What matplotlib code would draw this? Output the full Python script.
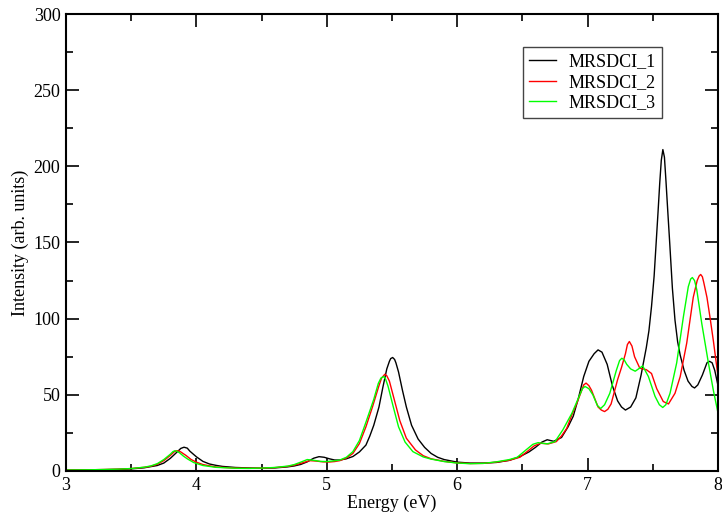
import matplotlib
matplotlib.use("Agg")
import matplotlib.pyplot as plt
from matplotlib.ticker import MultipleLocator

plt.rcParams['font.family'] = ['Liberation Serif', 'DejaVu Serif']

# MRSDCI_1 (black)
e1 = [3.0, 3.2, 3.4, 3.5, 3.6, 3.7, 3.75, 3.8, 3.85, 3.88, 3.905, 3.93, 3.95, 4.0,
      4.05, 4.1, 4.15, 4.2, 4.3, 4.4, 4.5, 4.6, 4.7, 4.75, 4.8, 4.85, 4.9, 4.94,
      4.98, 5.02, 5.06, 5.1, 5.15, 5.2, 5.25, 5.3, 5.33, 5.36, 5.4, 5.43, 5.46,
      5.48, 5.49, 5.505, 5.52, 5.53, 5.55, 5.58, 5.61, 5.65, 5.7, 5.75, 5.8, 5.85,
      5.9, 6.0, 6.1, 6.2, 6.3, 6.4, 6.48, 6.55, 6.6, 6.65, 6.69, 6.74, 6.8, 6.85,
      6.89, 6.93, 6.97, 7.01, 7.05, 7.08, 7.11, 7.15, 7.19, 7.23, 7.26, 7.29, 7.33,
      7.37, 7.41, 7.45, 7.47, 7.49, 7.51, 7.525, 7.54, 7.553, 7.565, 7.577, 7.589,
      7.601, 7.615, 7.63, 7.65, 7.67, 7.69, 7.71, 7.74, 7.77, 7.8, 7.82, 7.845,
      7.88, 7.915, 7.935, 7.955, 7.975, 8.0]
i1 = [0.5, 0.7, 1.0, 1.4, 2.1, 3.6, 5.2, 8.3, 12.3, 14.8, 15.6, 15.0, 13.0, 9.3,
      6.3, 4.6, 3.7, 3.0, 2.3, 2.0, 1.8, 2.0, 2.7, 3.3, 4.3, 6.0, 8.4, 9.4,
      9.0, 8.0, 7.2, 7.2, 8.0, 9.5, 12.5, 17, 23, 30, 42, 55, 67,
      72, 73.8, 74.5, 73.2, 71, 65, 53, 42, 30, 21, 15.5, 11.5, 9.0,
      7.5, 5.8, 5.2, 5.2, 5.6, 7.0, 9.4, 12.5, 15.5, 19, 20.5, 19.5, 22, 29,
      36, 48, 62, 72, 77, 79.5, 78, 70, 56, 46, 42, 40, 42,
      48, 63, 81, 92, 108, 128, 149, 170, 189, 204, 211, 206,
      190, 170, 149, 120, 99, 85, 76, 66, 59, 55.5, 54.5, 56.5,
      63, 71, 72, 71, 66, 56]

# MRSDCI_2 (red)
e2 = [3.0, 3.2, 3.4, 3.5, 3.6, 3.65, 3.7, 3.75, 3.8, 3.83, 3.85, 3.865, 3.88, 3.92,
      3.96, 4.0, 4.05, 4.15, 4.3, 4.4, 4.5, 4.6, 4.7, 4.75, 4.8, 4.87, 4.92, 4.97,
      5.02, 5.06, 5.1, 5.15, 5.2, 5.25, 5.3, 5.35, 5.4, 5.42, 5.445, 5.46, 5.48,
      5.52, 5.56, 5.61, 5.68, 5.74, 5.8, 5.9, 6.0, 6.1, 6.2, 6.3, 6.4, 6.48, 6.54,
      6.59, 6.64, 6.7, 6.76, 6.8, 6.84, 6.88, 6.92, 6.955, 6.97, 6.988, 7.01, 7.03,
      7.08, 7.105, 7.13, 7.155, 7.18, 7.23, 7.26, 7.29, 7.305, 7.32, 7.34, 7.36,
      7.40, 7.45, 7.49, 7.53, 7.58, 7.62, 7.67, 7.71, 7.76, 7.79, 7.81, 7.84,
      7.855, 7.867, 7.88, 7.89, 7.915, 7.94, 7.965, 8.0]
i2 = [0.6, 0.8, 1.2, 1.6, 2.4, 3.1, 4.4, 6.8, 10.2, 12.6, 13.3, 13.2, 12.5, 10.2,
      7.5, 5.8, 4.2, 2.6, 1.9, 1.8, 1.9, 2.2, 3.0, 3.8, 5.0, 6.8, 6.5, 6.0,
      5.9, 6.2, 6.8, 8.5, 11.5, 18, 29, 42, 56, 61, 63.5, 62.5, 59,
      46, 33, 21.5, 13.8, 10, 8.0, 6.3, 5.3, 4.9, 5.0, 5.8, 7.0, 9.0, 13,
      16.5, 18.2, 17.8, 19.3, 23, 28, 37, 45, 53, 56.5, 57.7, 56, 53,
      42, 40, 39, 40.5, 44, 60, 68, 77, 83, 85, 82, 75,
      67.5, 66.5, 64, 54, 45.6, 44, 51, 62, 84, 102, 114, 125,
      128, 129, 127.5, 124, 114, 100, 85, 62]

# MRSDCI_3 (green)
e3 = [3.0, 3.2, 3.4, 3.5, 3.6, 3.65, 3.7, 3.75, 3.8, 3.82, 3.835, 3.85, 3.87, 3.9,
      3.93, 3.98, 4.05, 4.15, 4.3, 4.4, 4.5, 4.6, 4.7, 4.75, 4.8, 4.85, 4.9, 4.95,
      5.0, 5.05, 5.1, 5.15, 5.2, 5.25, 5.3, 5.36, 5.395, 5.415, 5.436, 5.45, 5.47,
      5.51, 5.55, 5.6, 5.66, 5.74, 5.8, 5.9, 6.0, 6.1, 6.2, 6.3, 6.4, 6.46, 6.53,
      6.58, 6.62, 6.69, 6.75, 6.81, 6.88, 6.94, 6.96, 6.98, 7.01, 7.04, 7.075, 7.1,
      7.13, 7.17, 7.22, 7.245, 7.262, 7.28, 7.3, 7.33, 7.365, 7.39, 7.422, 7.466,
      7.517, 7.55, 7.576, 7.6, 7.632, 7.683, 7.734, 7.772, 7.79, 7.803, 7.82,
      7.837, 7.875, 7.926, 7.964, 8.0]
i3 = [0.6, 0.8, 1.2, 1.6, 2.5, 3.3, 4.8, 7.5, 11.0, 12.7, 13.3, 13.0, 12.0, 9.8,
      8.0, 5.5, 3.6, 2.4, 1.8, 1.7, 1.9, 2.3, 3.2, 4.2, 5.8, 7.5, 7.0, 6.3,
      6.2, 6.6, 7.2, 9.0, 12.7, 20, 32, 47, 57.5, 61, 62, 60.5, 55.5,
      42, 29, 19, 12.7, 9.2, 7.8, 6.2, 5.2, 4.8, 5.0, 6.0, 7.5, 9.0, 14,
      17.5, 18.6, 17.8, 19.3, 27, 38, 50, 54, 55.5, 54, 50, 43, 41,
      43.5, 51, 66, 72.5, 74, 73, 70, 67, 65.5, 67, 69, 62,
      49, 43.5, 41.7, 43.5, 51, 71, 101, 121, 126, 127, 125,
      119, 97, 71, 53, 38]

labels = ['MRSDCI_1', 'MRSDCI_2', 'MRSDCI_3']
colors = ['#000000', '#ff0000', '#00ff00']

fig = plt.figure(figsize=(7.22, 5.13), dpi=100)
ax = fig.add_axes([0.0914, 0.0819, 0.9031, 0.8908])

for e, i, lab, c in zip([e1, e2, e3], [i1, i2, i3], labels, colors):
    ax.plot(e, i, color=c, lw=1.0, label=lab)

ax.set_xlim(3, 8)
ax.set_ylim(0, 300)
ax.xaxis.set_major_locator(MultipleLocator(1))
ax.xaxis.set_minor_locator(MultipleLocator(0.5))
ax.yaxis.set_major_locator(MultipleLocator(50))
ax.yaxis.set_minor_locator(MultipleLocator(25))
ax.tick_params(which='both', direction='in', top=True, right=True,
               labelsize=13, width=1.2)
ax.tick_params(which='major', length=9.5, pad=4)
ax.tick_params(which='minor', length=5)
for s in ax.spines.values():
    s.set_linewidth(1.5)

ax.set_xlabel('Energy (eV)', fontsize=13, labelpad=0.5)
ax.set_ylabel('Intensity (arb. units)', fontsize=13, labelpad=3)

leg = ax.legend(loc='upper left', bbox_to_anchor=(0.701, 0.928),
                borderaxespad=0, fontsize=13, frameon=True, fancybox=False,
                framealpha=1, edgecolor='#444444', handlelength=1.45,
                handletextpad=0.7, labelspacing=0.2, borderpad=0.35)
leg.get_frame().set_linewidth(1.0)

fig.savefig('out.png', dpi=100)
